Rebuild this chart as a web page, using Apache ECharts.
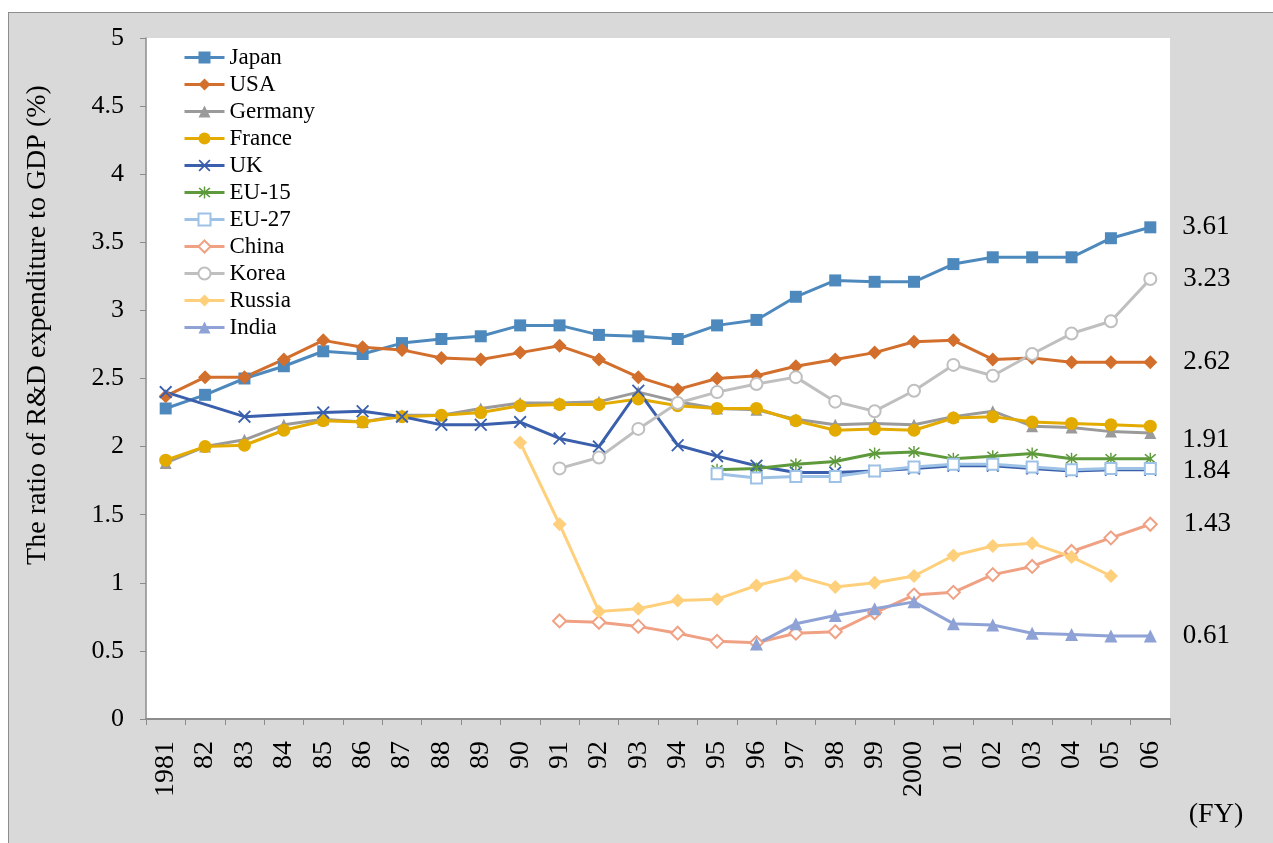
<!DOCTYPE html>
<html>
<head>
<meta charset="utf-8">
<script src="https://cdn.jsdelivr.net/npm/echarts@6/dist/echarts.min.js"></script>
<style>
  html, body { margin: 0; padding: 0; background: #ffffff; }
  #frame {
    position: absolute; left: 8px; top: 12px; width: 1300px; height: 900px;
    background: #d9d9d9; border: 1px solid #8e8e8e; box-sizing: border-box;
  }
  #chart { position: absolute; left: 0; top: 0; width: 1273px; height: 843px; }
</style>
</head>
<body>
<div id="frame"></div>
<div id="chart"></div>
<script>
// Fiscal years on the category axis
const years = ['1981','82','83','84','85','86','87','88','89','90','91','92','93','94','95',
               '96','97','98','99','2000','01','02','03','04','05','06'];

// R&D expenditure as a share of GDP (%)
const japan   = [2.28,2.38,2.50,2.59,2.70,2.68,2.76,2.79,2.81,2.89,2.89,2.82,2.81,2.79,2.89,2.93,3.10,3.22,3.21,3.21,3.34,3.39,3.39,3.39,3.53,3.61];
const usa     = [2.37,2.51,2.51,2.64,2.78,2.73,2.71,2.65,2.64,2.69,2.74,2.64,2.51,2.42,2.50,2.52,2.59,2.64,2.69,2.77,2.78,2.64,2.65,2.62,2.62,2.62];
const germany = [1.88,2.00,2.05,2.16,2.20,2.18,2.23,2.23,2.28,2.32,2.32,2.33,2.40,2.33,2.28,2.27,2.20,2.16,2.17,2.16,2.22,2.26,2.15,2.14,2.11,2.10];
const france  = [1.90,2.00,2.01,2.12,2.19,2.18,2.22,2.23,2.25,2.30,2.31,2.31,2.35,2.30,2.28,2.28,2.19,2.12,2.13,2.12,2.21,2.22,2.18,2.17,2.16,2.15];
const uk      = [2.40,null,2.22,null,2.25,2.26,2.22,2.16,2.16,2.18,2.06,2.00,2.41,2.01,1.93,1.86,1.81,1.81,1.82,1.84,1.86,1.86,1.84,1.82,1.83,1.83];
const eu15    = [null,null,null,null,null,null,null,null,null,null,null,null,null,null,1.83,1.84,1.87,1.89,1.95,1.96,1.91,1.93,1.95,1.91,1.91,1.91];
const eu27    = [null,null,null,null,null,null,null,null,null,null,null,null,null,null,1.80,1.77,1.78,1.78,1.82,1.85,1.87,1.87,1.85,1.83,1.84,1.84];
const china   = [null,null,null,null,null,null,null,null,null,null,0.72,0.71,0.68,0.63,0.57,0.56,0.63,0.64,0.78,0.91,0.93,1.06,1.12,1.23,1.33,1.43];
const korea   = [null,null,null,null,null,null,null,null,null,null,1.84,1.92,2.13,2.32,2.40,2.46,2.51,2.33,2.26,2.41,2.60,2.52,2.68,2.83,2.92,3.23];
const russia  = [null,null,null,null,null,null,null,null,null,2.03,1.43,0.79,0.81,0.87,0.88,0.98,1.05,0.97,1.00,1.05,1.20,1.27,1.29,1.19,1.05,null];
const india   = [null,null,null,null,null,null,null,null,null,null,null,null,null,null,null,0.55,0.70,0.76,0.81,0.86,0.70,0.69,0.63,0.62,0.61,0.61];

const SERIF = "'Liberation Serif', 'Times New Roman', serif";

// Custom marker shapes: a cross and an asterisk
const CROSS = 'path://M0,1 L1,0 L5,4 L9,0 L10,1 L6,5 L10,9 L9,10 L5,6 L1,10 L0,9 L4,5 Z';
const STAR  = 'path://M0,1 L1,0 L5,4 L9,0 L10,1 L6,5 L10,9 L9,10 L5,6 L1,10 L0,9 L4,5 Z M4.4,-1 L5.6,-1 L5.6,11 L4.4,11 Z';

// Each line; endOffset (when given) places the value label at the final year
const lines = [
  { name: 'Japan',   data: japan,   color: '#4e89bd', symbol: 'rect',         size: 12, endOffset: [0, 0] },
  { name: 'USA',     data: usa,     color: '#d36f2c', symbol: 'diamond',      size: 14, endOffset: [0, 0] },
  { name: 'Germany', data: germany, color: '#9a9a9a', symbol: 'triangle',     size: 12 },
  { name: 'France',  data: france,  color: '#e3ab00', symbol: 'circle',       size: 13 },
  { name: 'UK',      data: uk,      color: '#3a5fac', symbol: CROSS,          size: 13 },
  { name: 'EU-15',   data: eu15,    color: '#5e9a3c', symbol: STAR,           size: 12, endOffset: [0, -19] },
  { name: 'EU-27',   data: eu27,    color: '#9ec2e6', symbol: 'emptyRect',    size: 11, endOffset: [0, 3] },
  { name: 'China',   data: china,   color: '#f0a184', symbol: 'emptyDiamond', size: 13, endOffset: [0, 0] },
  { name: 'Korea',   data: korea,   color: '#bfbfbf', symbol: 'emptyCircle',  size: 12, endOffset: [0, 0] },
  { name: 'Russia',  data: russia,  color: '#ffd07c', symbol: 'diamond',      size: 14 },
  { name: 'India',   data: india,   color: '#8fa2d5', symbol: 'triangle',     size: 13, endOffset: [0, 0] }
];

const series = lines.map(function (s) {
  const last = s.data.length - 1;
  const data = s.data.map(function (v, i) {
    if (s.endOffset && i === last && v != null) {
      return {
        value: v,
        label: {
          show: true, position: 'right', distance: 26, offset: s.endOffset,
          formatter: function (p) { return p.value.toFixed(2); },
          color: '#000', fontFamily: SERIF, fontSize: 27
        }
      };
    }
    return v;
  });
  return {
    name: s.name,
    type: 'line',
    data: data,
    connectNulls: true,
    symbol: s.symbol,
    symbolSize: s.size,
    showAllSymbol: true,
    color: s.color,
    itemStyle: { color: s.color, borderWidth: 1.5 },
    lineStyle: { color: s.color, width: 3 },
    emphasis: { disabled: true }
  };
});

const chart = echarts.init(document.getElementById('chart'), null, { renderer: 'canvas' });
chart.setOption({
  animation: false,
  backgroundColor: 'transparent',
  grid: {
    left: 146, top: 38, width: 1024, height: 681,
    show: true, backgroundColor: '#ffffff', borderWidth: 0
  },
  legend: {
    orient: 'vertical', left: 183, top: 46, padding: 0,
    itemWidth: 40, itemHeight: 15, itemGap: 4,
    lineStyle: { width: 3 },
    textStyle: { fontFamily: SERIF, fontSize: 23, lineHeight: 23, color: '#000' },
    data: lines.map(function (s) { return s.name; })
  },
  xAxis: {
    type: 'category',
    data: years,
    boundaryGap: true,
    axisLine: { lineStyle: { color: '#8c8c8c', width: 2 } },
    axisTick: { show: true, length: 6, lineStyle: { color: '#8c8c8c', width: 1 } },
    axisLabel: { rotate: 90, margin: 22, interval: 0, color: '#000', fontFamily: SERIF, fontSize: 28 },
    splitLine: { show: false }
  },
  yAxis: {
    type: 'value',
    min: 0, max: 5, interval: 0.5,
    axisLine: { show: true, lineStyle: { color: '#8c8c8c', width: 1.5 } },
    axisTick: { show: true, length: 6, lineStyle: { color: '#8c8c8c' } },
    axisLabel: { margin: 22, color: '#000', fontFamily: SERIF, fontSize: 26 },
    splitLine: { show: false }
  },
  graphic: [
    {
      type: 'text', x: 38, y: 325, rotation: Math.PI / 2,
      style: {
        text: 'The ratio of R&D expenditure to GDP (%)',
        fontFamily: SERIF, fontSize: 28, fill: '#000',
        align: 'center', verticalAlign: 'middle'
      }
    },
    {
      type: 'text', x: 1216, y: 815,
      style: {
        text: '(FY)', fontFamily: SERIF, fontSize: 28, fill: '#000',
        align: 'center', verticalAlign: 'middle'
      }
    }
  ],
  series: series
});
</script>
</body>
</html>
